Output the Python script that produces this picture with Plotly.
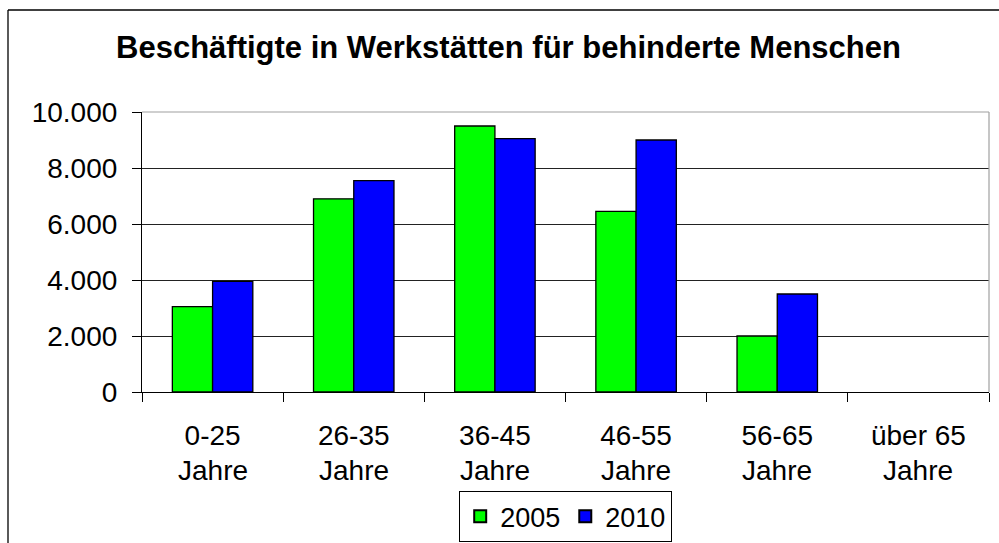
import plotly.graph_objects as go

categories = ["0-25", "26-35", "36-45", "46-55", "56-65", "über 65"]
second_line = ["Jahre", "Jahre", "Jahre", "Jahre", "Jahre", "Jahre"]
values_2005 = [3050, 6900, 9500, 6450, 2000, None]
values_2010 = [3950, 7550, 9050, 9000, 3500, None]
y_ticks = [0, 2000, 4000, 6000, 8000, 10000]

FONT = "Liberation Sans, Arial, sans-serif"
FS = 28
W, H = 999, 543
L, R, T, B = 142, 989, 112, 392
pw, ph = R - L, B - T

def px_x(px):
    return (px - L) / pw

def px_y(py):
    return (B - py) / ph

fig = go.Figure()
fig.add_trace(go.Bar(x=categories, y=values_2005, name="2005",
                     marker=dict(color="#00FF00", line=dict(color="black", width=1.3))))
fig.add_trace(go.Bar(x=categories, y=values_2010, name="2010",
                     marker=dict(color="#0000FF", line=dict(color="black", width=1.3))))

annotations = [
    dict(x=c, y=px_y(471), xref="x", yref="paper", text=s, showarrow=False,
         font=dict(family=FONT, size=FS, color="black"), yanchor="middle")
    for c, s in zip(categories, second_line)
]

shapes = [
    dict(type="line", xref="paper", yref="paper", x0=0, x1=1, y0=1, y1=1,
         line=dict(color="#a0a0a0", width=1.2), layer="above"),
    dict(type="line", xref="paper", yref="paper", x0=1, x1=1, y0=0, y1=1,
         line=dict(color="#a0a0a0", width=1.2), layer="above"),
    dict(type="line", xref="paper", yref="paper", x0=px_x(8), x1=px_x(1005),
         y0=px_y(10), y1=px_y(10), line=dict(color="black", width=1.3)),
    dict(type="line", xref="paper", yref="paper", x0=px_x(8), x1=px_x(8),
         y0=px_y(10), y1=px_y(560), line=dict(color="black", width=1.3)),
]

fig.update_layout(
    width=W, height=H,
    margin=dict(l=L, r=W - R, t=T, b=H - B, pad=0, autoexpand=False),
    paper_bgcolor="white", plot_bgcolor="white",
    separators=",.",
    barmode="group", bargap=0.43, bargroupgap=0,
    font=dict(family=FONT, size=FS, color="black"),
    title=dict(text="<b>Beschäftigte in Werkstätten für behinderte Menschen</b>",
               x=508.5 / W, xanchor="center", xref="container",
               y=1 - 47 / H, yanchor="middle", yref="container",
               font=dict(family=FONT, size=31, color="black")),
    xaxis=dict(type="category", categoryorder="array", categoryarray=categories,
               tickson="boundaries", ticks="outside", ticklen=9, tickcolor="black",
               showline=True, linecolor="black", linewidth=1.2,
               showgrid=False, ticklabelstandoff=18, automargin=False,
               tickfont=dict(family=FONT, size=FS, color="black")),
    yaxis=dict(range=[0, 10000], tickvals=y_ticks, tickformat=",.0f",
               ticks="outside", ticklen=9, tickcolor="black",
               showline=True, linecolor="black", linewidth=1.2,
               showgrid=True, gridcolor="#222222", gridwidth=1,
               zeroline=False, ticklabelstandoff=9, automargin=False,
               tickfont=dict(family=FONT, size=FS, color="black")),
    legend=dict(orientation="h", x=0.5, xanchor="center", y=px_y(491), yanchor="top",
                bordercolor="black", borderwidth=1.2, bgcolor="white",
                font=dict(family=FONT, size=27, color="black"),
                itemsizing="constant", traceorder="normal"),
    annotations=annotations,
    shapes=shapes,
    showlegend=True,
)

fig.write_html("out.html", config={"displayModeBar": False},
               post_script="document.body.style.margin='0';document.body.style.overflow='hidden';")
